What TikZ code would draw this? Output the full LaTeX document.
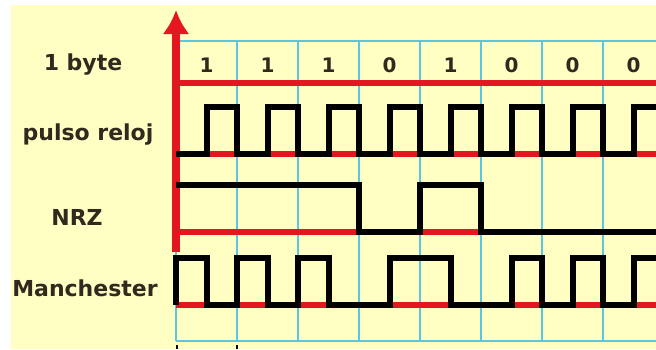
\documentclass[tikz,border=0pt]{standalone}
\usepackage{fontspec}
\setmainfont{DejaVu Sans}
\usetikzlibrary{arrows.meta}
\definecolor{fondo}{RGB}{255,255,196}
\definecolor{rejilla}{RGB}{90,198,226}
\definecolor{rojo}{RGB}{228,22,32}
\definecolor{texto}{RGB}{50,40,30}
\tikzset{
  etiqueta/.style={font=\bfseries\fontsize{22}{24}\selectfont, text=texto, inner sep=0pt},
  bitnum/.style={font=\bfseries\fontsize{20}{22}\selectfont, text=texto, inner sep=0pt},
  rejillav/.style={draw=rejilla, line width=2.2pt},
  base/.style={draw=rojo, line width=6pt},
  senal/.style={draw=black, line width=6pt, line join=miter},
  eje/.style={draw=rojo, line width=7.5pt, -{Latex[length=24pt,width=27pt]}}
}

\begin{document}
\begin{tikzpicture}[x=1pt, y=-1pt]
  \useasboundingbox (0,0) rectangle (656,349);
  \fill[fondo] (11,5) rectangle (656,349);
  \begin{scope}
    \clip (0,0) rectangle (656,349);
    % rejilla
    \foreach \x in {176,237,...,603}
      \draw[rejillav] (\x,41) -- (\x,341);
    \draw[rejillav] (176,41) -- (656,41);
    \draw[rejillav] (176,341) -- (656,341);
    % lineas base
    \draw[base] (176,83) -- (656,83);
    \draw[base] (176,154) -- (656,154);
    \draw[base] (176,232) -- (656,232);
    \draw[base] (176,305) -- (656,305);
    \draw[eje] (176,252) -- (176,10);
    % bits
    \foreach \v [count=\i] in {1,1,1,0,1,0,0,0}
      \node[bitnum] (b\i) at ({176+61*\i-30.5},65) {\v};
    % pulso reloj
    \draw[senal] (176,154) \foreach \i in {1,...,8} {
      -- ++(30.5,0) -- ++(0,-47) -- ++(30.5,0) -- ++(0,47) };
    % NRZ
    \draw[senal] (176,185) -- (359,185) -- (359,232) -- (420,232)
      -- (420,185) -- (481,185) -- (481,232) -- (664,232);
    % Manchester
    \draw[senal] (176,305) -- (176,258) -- (206.5,258) -- (206.5,305)
      -- (237,305) -- (237,258) -- (267.5,258) -- (267.5,305)
      -- (298,305) -- (298,258) -- (328.5,258) -- (328.5,305)
      -- (389.5,305) -- (389.5,258) -- (450.5,258) -- (450.5,305)
      -- (511.5,305) -- (511.5,258) -- (542,258) -- (542,305)
      -- (572.5,305) -- (572.5,258) -- (603,258) -- (603,305)
      -- (633.5,305) -- (633.5,258) -- (664,258);
  \end{scope}
  \node[etiqueta] (lbyte) at (83,65) {1 byte};
  \node[etiqueta] (lreloj) at (88,135) {pulso reloj};
  \node[etiqueta] (lnrz) at (77,217) {NRZ};
  \node[etiqueta] (lman) at (85,288) {Manchester};
  \draw[black, line width=1.5pt] (177,345) -- (177,349);
  \draw[black, line width=1.5pt] (237,345) -- (237,349);
\end{tikzpicture}
\end{document}
